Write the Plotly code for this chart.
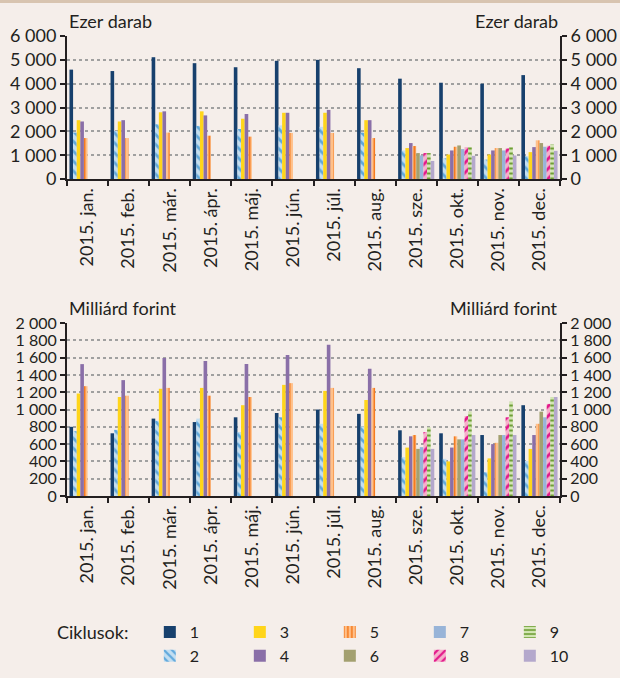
import plotly.graph_objects as go

# categories
honapok = ["2015. jan.", "2015. feb.", "2015. már.", "2015. ápr.", "2015. máj.", "2015. jún.",
           "2015. júl.", "2015. aug.", "2015. sze.", "2015. okt.", "2015. nov.", "2015. dec."]
ciklusok = ["1", "2", "3", "4", "5", "6", "7", "8", "9", "10"]

# felső ábra - ezer darab
db_1 = [4590, 4530, 5110, 4860, 4690, 4960, 5000, 4650, 4210, 4040, 4000, 4360]
db_2 = [1950, 2020, 2300, 2230, 2100, 2250, 2190, 1950, 1200, 875, 820, 960]
db_3 = [2470, 2415, 2800, 2840, 2530, 2780, 2780, 2470, 1300, 1030, 1030, 1130]
db_4 = [2415, 2470, 2840, 2670, 2730, 2780, 2900, 2470, 1510, 1200, 1200, 1340]
db_5 = [1720, 1720, 1950, 1820, 1780, 1935, 1935, 1720, 1385, 1355, 1300, 1625]
db_6 = [None, None, None, None, None, None, None, None, 1090, 1410, 1300, 1510]
db_7 = [None, None, None, None, None, None, None, None, 990, 1257, 1200, 1355]
db_8 = [None, None, None, None, None, None, None, None, 1090, 1340, 1285, 1400]
db_9 = [None, None, None, None, None, None, None, None, 1090, 1340, 1340, 1455]
db_10 = [None, None, None, None, None, None, None, None, 760, 975, 990, 1185]

# alsó ábra - milliárd forint
ft_1 = [800, 725, 895, 855, 910, 960, 1000, 950, 760, 725, 705, 1050]
ft_2 = [750, 765, 870, 895, 740, 910, 835, 805, 450, 430, 275, 405]
ft_3 = [1185, 1145, 1240, 1250, 1050, 1285, 1215, 1110, 560, 400, 435, 545]
ft_4 = [1525, 1340, 1595, 1560, 1525, 1630, 1750, 1470, 690, 560, 600, 705]
ft_5 = [1270, 1160, 1250, 1160, 1145, 1305, 1250, 1250, 705, 690, 615, 835]
ft_6 = [None, None, None, None, None, None, None, None, 545, 655, 705, 975]
ft_7 = [None, None, None, None, None, None, None, None, 565, 655, 705, 910]
ft_8 = [None, None, None, None, None, None, None, None, 740, 925, 910, 1065]
ft_9 = [None, None, None, None, None, None, None, None, 795, 975, 1090, 1145]
ft_10 = [None, None, None, None, None, None, None, None, 545, 705, 705, 1145]

db_sorok = [db_1, db_2, db_3, db_4, db_5, db_6, db_7, db_8, db_9, db_10]
ft_sorok = [ft_1, ft_2, ft_3, ft_4, ft_5, ft_6, ft_7, ft_8, ft_9, ft_10]

# szín, minta, minta színe
stilus = [
    ("#17406d", "", None),
    ("#c3def1", "\\", "#5fa8dc"),
    ("#ffd51a", "", None),
    ("#8a6fa8", "", None),
    ("#ffc08a", "|", "#f47b20"),
    ("#a3a070", "", None),
    ("#98b4d8", "", None),
    ("#f6b0cb", "/", "#e2168a"),
    ("#d3e6b4", "-", "#6e9e35"),
    ("#b4a8cc", "", None),
]
rangok = [1, 6, 2, 7, 3, 8, 4, 9, 5, 10]

FONT = "Lato"
BG = "#f5eeea"
FS = 18
SZEL = 0.088  # egy oszlop szélessége kategóriában

fig = go.Figure()
for sorok, xa, ya, show in [(db_sorok, "x", "y", True), (ft_sorok, "x2", "y2", False)]:
    for i, vals in enumerate(sorok):
        col, shape, fg = stilus[i]
        marker = dict(color=col, line=dict(width=0))
        if shape:
            marker["pattern"] = dict(shape=shape, fgcolor=fg, bgcolor=col, size=5 if shape in "|-" else 7,
                                     solidity=0.4, fillmode="replace")
        fig.add_trace(go.Bar(x=honapok, y=vals, name=ciklusok[i], marker=marker,
                             width=SZEL, offset=-0.44 + i * SZEL,
                             xaxis=xa, yaxis=ya, showlegend=show, legendrank=rangok[i],
                             legendgroup=ciklusok[i]))

# jobb oldali tengelyekhez
fig.add_trace(go.Scatter(x=[honapok[0]], y=[0], xaxis="x", yaxis="y3", mode="markers",
                         marker=dict(opacity=0), showlegend=False, hoverinfo="skip"))
fig.add_trace(go.Scatter(x=[honapok[0]], y=[0], xaxis="x2", yaxis="y4", mode="markers",
                         marker=dict(opacity=0), showlegend=False, hoverinfo="skip"))

yax = dict(showline=True, linecolor="#231f20", linewidth=2, ticks="outside", ticklen=5,
           tickwidth=2, tickcolor="#231f20", showgrid=True, gridcolor="#a0a0a0", griddash="dot",
           gridwidth=1.5, zeroline=False, tickfont=dict(size=FS, color="#231f20"), automargin=False,
           ticklabelstandoff=0)
xax = dict(showline=True, linecolor="#231f20", linewidth=2, ticks="outside", ticklen=5,
           tickwidth=2, tickcolor="#231f20", tickson="boundaries", tickangle=-90,
           tickfont=dict(size=FS, color="#231f20"), showgrid=False, automargin=False,
           range=[-0.5, 11.5])
kis = dict(size=16, color="#231f20")

fig.update_layout(
    width=620, height=678,
    paper_bgcolor=BG, plot_bgcolor=BG,
    font=dict(family=FONT, color="#231f20"),
    separators=", ",
    barmode="overlay",
    margin=dict(l=67, r=60, t=36, b=182, autoexpand=False),
    xaxis=dict(xax, domain=[0, 1], anchor="y"),
    yaxis=dict(yax, domain=[0.689, 1], range=[0, 6000], dtick=1000, tickformat=",d"),
    yaxis3=dict(yax, overlaying="y", side="right", range=[0, 6000], dtick=1000,
                tickformat=",d", showgrid=False, anchor="x"),
    xaxis2=dict(xax, domain=[0, 1], anchor="y2"),
    yaxis2=dict(yax, domain=[0, 0.376], range=[0, 2000], dtick=200, tickformat=",d", tickfont=kis),
    yaxis4=dict(yax, overlaying="y2", side="right", range=[0, 2000], dtick=200,
                tickformat=",d", showgrid=False, anchor="x2", tickfont=kis),
    legend=dict(orientation="h", x=0.168, xanchor="left", y=-0.259, yanchor="top",
                entrywidth=45, bgcolor="rgba(0,0,0,0)", font=dict(size=16),
                traceorder="normal", tracegroupgap=0),
    showlegend=True,
)

ann = dict(xref="paper", yref="paper", showarrow=False, font=dict(size=FS, color="#231f20"))
fig.add_annotation(ann, text="Ezer darab", x=0, y=1.0, xanchor="left", yanchor="bottom", yshift=2)
fig.add_annotation(ann, text="Ezer darab", x=1, y=1.0, xanchor="right", yanchor="bottom", yshift=2)
fig.add_annotation(ann, text="Milliárd forint", x=0, y=0.376, xanchor="left", yanchor="bottom", yshift=2)
fig.add_annotation(ann, text="Milliárd forint", x=1, y=0.376, xanchor="right", yanchor="bottom", yshift=2)
fig.add_annotation(ann, text="Ciklusok:", x=-0.025, y=-0.296, xanchor="left", yanchor="middle")

# felső sáv
fig.add_shape(type="rect", xref="paper", yref="paper", x0=-0.2, x1=1.2, y0=1.072, y1=1.09,
              fillcolor="#d8c4b0", line=dict(width=0), layer="below")

fig.write_html("out.html", config={"displayModeBar": False},
               post_script="document.body.style.margin='0';")
